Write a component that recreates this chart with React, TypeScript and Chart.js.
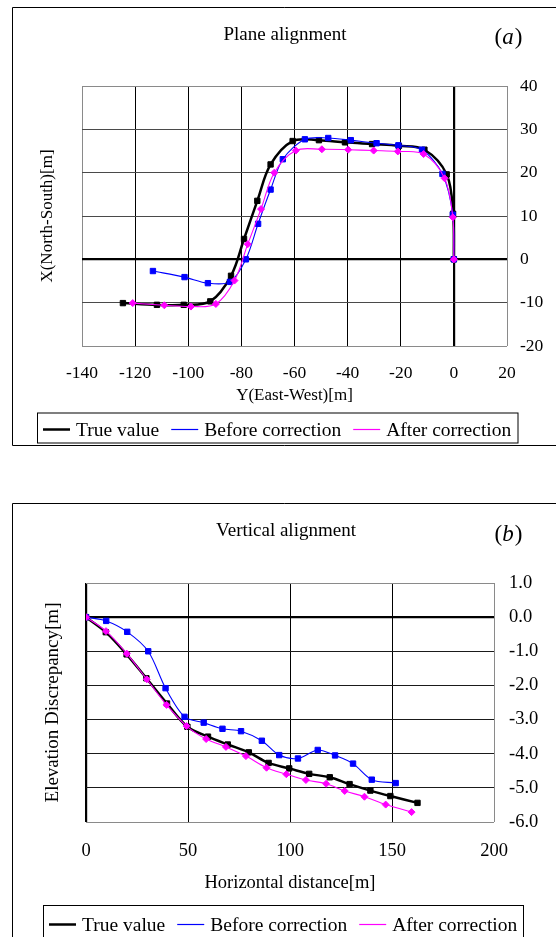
import React, { useEffect, useRef } from "react";
import { Chart, registerables } from "chart.js";

Chart.register(...registerables);

const SERIF = "'Liberation Serif', 'Times New Roman', Times, serif";

// ---------- (a) Plane alignment : x = Y(East-West)[m], y = X(North-South)[m] ----------
const seriesLabels = ["True value", "Before correction", "After correction"];

const planeTrueY = [-124.6, -111.8, -101.7, -91.7, -83.9, -79.0, -74.0, -69.0, -60.7, -50.8, -41.0, -30.8, -20.7, -11.1, -2.7, -0.3, 0];
const planeTrueX = [-10.1, -10.5, -10.5, -9.7, -3.8, 4.7, 13.5, 21.9, 27.3, 27.5, 27.0, 26.6, 26.2, 25.3, 19.6, 10.5, 0];

const planeBeforeY = [-113.3, -101.4, -92.6, -84.3, -78.3, -73.7, -69.0, -64.4, -56.1, -47.3, -38.8, -29.1, -20.9, -12.0, -4.3, -0.4, 0];
const planeBeforeX = [-2.7, -4.1, -5.5, -5.2, 0, 8.2, 16.1, 23.1, 27.7, 28.0, 27.5, 26.8, 26.3, 25.3, 19.7, 10.3, 0];

const planeAfterY = [-120.9, -109.0, -99.0, -89.6, -82.6, -77.6, -72.6, -67.6, -59.5, -49.7, -39.8, -30.2, -21.1, -11.4, -3.5, -0.4, 0];
const planeAfterX = [-10.1, -10.6, -10.9, -10.3, -4.9, 3.5, 11.6, 20.0, 25.1, 25.4, 25.3, 25.1, 24.9, 24.3, 18.7, 9.7, 0];

const planeXTicks = { min: -140, max: 20, step: 20 };
const planeYTicks = { min: -20, max: 40, step: 10 };

// ---------- (b) Vertical alignment ----------
const vertTrueD = [0, 9.7, 19.9, 29.6, 39.7, 49.7, 59.8, 69.5, 79.8, 89.5, 99.6, 109.4, 119.5, 129.2, 139.4, 149.2, 162.5];
const vertTrueE = [0, -0.44, -1.09, -1.79, -2.53, -3.21, -3.5, -3.73, -3.96, -4.27, -4.43, -4.59, -4.69, -4.89, -5.08, -5.24, -5.44];

const vertBeforeD = [0, 9.9, 20.2, 30.5, 39.0, 48.3, 57.7, 66.9, 76.0, 86.2, 94.7, 103.9, 113.6, 122.1, 130.9, 140.1, 151.8];
const vertBeforeE = [0, -0.11, -0.43, -1.0, -2.08, -2.92, -3.09, -3.27, -3.34, -3.62, -4.04, -4.14, -3.89, -4.05, -4.29, -4.76, -4.86];

const vertAfterD = [0, 9.8, 20.0, 29.8, 39.5, 49.3, 58.9, 68.6, 78.4, 88.5, 98.2, 107.8, 117.7, 126.8, 136.5, 146.9, 159.6];
const vertAfterE = [0, -0.41, -1.07, -1.82, -2.57, -3.19, -3.57, -3.8, -4.07, -4.41, -4.6, -4.77, -4.88, -5.09, -5.26, -5.49, -5.71];

const vertXTicks = { min: 0, max: 200, step: 50 };
const vertYTicks = { min: -6, max: 1, step: 1 };

// ---------- helpers ----------
const zip = (xs: number[], ys: number[]) => xs.map((x, i) => ({ x, y: ys[i] }));

const near = (a: number, b: number) => Math.abs(a - b) < 1e-9;

function makeDatasets(t: [number[], number[]], b: [number[], number[]], a: [number[], number[]]) {
  return [
    {
      label: seriesLabels[0],
      data: zip(t[0], t[1]),
      showLine: true,
      borderColor: "#000000",
      borderWidth: 2.5,
      pointStyle: "rect",
      pointRadius: 3.8,
      pointBackgroundColor: "#000000",
      pointBorderColor: "#000000",
      pointBorderWidth: 1,
      tension: 0.35,
      order: 3,
      xAxisID: "x",
      yAxisID: "y",
    },
    {
      label: seriesLabels[1],
      data: zip(b[0], b[1]),
      showLine: true,
      borderColor: "#0000ff",
      borderWidth: 1.1,
      pointStyle: "rect",
      pointRadius: 3.8,
      pointBackgroundColor: "#0000ff",
      pointBorderColor: "#0000ff",
      pointBorderWidth: 1,
      tension: 0.3,
      order: 2,
      xAxisID: "x",
      yAxisID: "y",
    },
    {
      label: seriesLabels[2],
      data: zip(a[0], a[1]),
      showLine: true,
      borderColor: "#ff00ff",
      borderWidth: 1.1,
      pointStyle: "rectRot",
      pointRadius: 3.5,
      pointBackgroundColor: "#ff00ff",
      pointBorderColor: "#ff00ff",
      pointBorderWidth: 1,
      tension: 0.35,
      order: 1,
      xAxisID: "x",
      yAxisID: "y",
    },
  ];
}

type Decor = {
  frame: number[][];
  title: string;
  titleSize: number;
  titleX: number;
  titleY: number;
  tag: string;
  tagSize: number;
  tagX: number;
  tagY: number;
  legend: { x: number; y: number; w: number; h: number; size: number; lineY: number; textY: number };
};

function makeDecorPlugin(d: Decor) {
  return {
    id: "decor",
    afterDraw(chart: any) {
      const ctx: CanvasRenderingContext2D = chart.ctx;
      ctx.save();
      // outer frame
      ctx.strokeStyle = "#000";
      ctx.lineWidth = 1;
      ctx.beginPath();
      for (const [x1, y1, x2, y2] of d.frame) {
        ctx.moveTo(x1, y1);
        ctx.lineTo(x2, y2);
      }
      ctx.stroke();

      // title
      ctx.fillStyle = "#000";
      ctx.textAlign = "center";
      ctx.textBaseline = "alphabetic";
      ctx.font = `${d.titleSize}px ${SERIF}`;
      ctx.fillText(d.title, d.titleX, d.titleY);

      // panel tag "(a)" with italic letter
      ctx.textAlign = "left";
      const up = `${d.tagSize}px ${SERIF}`;
      const it = `italic ${d.tagSize}px ${SERIF}`;
      ctx.font = up;
      const wl = ctx.measureText("(").width;
      const wr = ctx.measureText(")").width;
      ctx.font = it;
      const wm = ctx.measureText(d.tag).width;
      let tx = d.tagX - (wl + wm + wr) / 2;
      ctx.font = up;
      ctx.fillText("(", tx, d.tagY);
      tx += wl;
      ctx.font = it;
      ctx.fillText(d.tag, tx, d.tagY);
      tx += wm + 1;
      ctx.font = up;
      ctx.fillText(")", tx, d.tagY);

      // legend box
      const L = d.legend;
      ctx.strokeStyle = "#000";
      ctx.lineWidth = 1;
      ctx.strokeRect(L.x + 0.5, L.y + 0.5, L.w, L.h);
      ctx.font = `${L.size}px ${SERIF}`;
      let x = L.x + 6;
      chart.data.datasets.forEach((ds: any) => {
        ctx.strokeStyle = ds.borderColor;
        ctx.lineWidth = ds.borderWidth >= 2 ? 2.5 : 1.2;
        ctx.beginPath();
        ctx.moveTo(x, L.lineY);
        ctx.lineTo(x + 27, L.lineY);
        ctx.stroke();
        ctx.fillStyle = "#000";
        ctx.fillText(ds.label, x + 33, L.textY);
        x += 33 + ctx.measureText(ds.label).width + 12;
      });
      ctx.restore();
    },
  };
}

type AxisSpec = {
  xTicks: { min: number; max: number; step: number };
  yTicks: { min: number; max: number; step: number };
  xTitle: string;
  yTitle: string;
  tickSize: number;
  xTitleSize: number;
  yTitleSize: number;
  padTop: number;
  leftW: number;
  rightW: number;
  bottomH: number;
  xTickPad: number;
  yTickPad: number;
  xTitlePad: number;
  yTitlePad: number;
  hColor: string;
  yFmt?: (v: number) => string;
};

function makeOptions(s: AxisSpec) {
  const edgeGray = "#8a8a8a";
  return {
    responsive: false,
    animation: false,
    devicePixelRatio: 1,
    layout: { padding: { top: s.padTop, left: 0, right: 0, bottom: 0 } },
    plugins: {
      legend: { display: false },
      tooltip: { enabled: false },
      title: { display: false },
    },
    events: [],
    scales: {
      x: {
        type: "linear",
        position: "bottom",
        min: s.xTicks.min,
        max: s.xTicks.max,
        ticks: {
          stepSize: s.xTicks.step,
          padding: s.xTickPad,
          color: "#000",
          font: { family: SERIF, size: s.tickSize },
          maxRotation: 0,
          autoSkip: false,
        },
        grid: {
          drawTicks: false,
          color: (c: any) => {
            const v = c.tick ? c.tick.value : NaN;
            if (near(v, 0)) return "#000";
            if (near(v, s.xTicks.min) || near(v, s.xTicks.max)) return edgeGray;
            return "#000";
          },
          lineWidth: (c: any) => (c.tick && near(c.tick.value, 0) ? 2.2 : 1),
        },
        border: { display: false },
        title: {
          display: true,
          text: s.xTitle,
          color: "#000",
          font: { family: SERIF, size: s.xTitleSize },
          padding: { top: 0, bottom: s.xTitlePad },
        },
        afterFit: (sc: any) => {
          sc.height = s.bottomH;
        },
      },
      y: {
        type: "linear",
        position: "right",
        min: s.yTicks.min,
        max: s.yTicks.max,
        ticks: {
          stepSize: s.yTicks.step,
          padding: s.yTickPad,
          color: "#000",
          font: { family: SERIF, size: s.tickSize },
          callback: s.yFmt ? (v: any) => s.yFmt!(Number(v)) : undefined,
        },
        grid: {
          drawTicks: false,
          color: (c: any) => {
            const v = c.tick ? c.tick.value : NaN;
            if (near(v, 0)) return "#000";
            if (near(v, s.yTicks.min) || near(v, s.yTicks.max)) return edgeGray;
            return s.hColor;
          },
          lineWidth: (c: any) => (c.tick && near(c.tick.value, 0) ? 2.2 : 1),
        },
        border: { display: false },
        afterFit: (sc: any) => {
          sc.width = s.rightW;
        },
      },
      yt: {
        type: "linear",
        axis: "y",
        position: "left",
        display: true,
        min: 0,
        max: 1,
        ticks: { display: false },
        grid: { display: false, drawTicks: false },
        border: { display: false },
        title: {
          display: true,
          text: s.yTitle,
          color: "#000",
          font: { family: SERIF, size: s.yTitleSize },
          padding: { top: s.yTitlePad, bottom: 0 },
        },
        afterFit: (sc: any) => {
          sc.width = s.leftW;
        },
      },
    },
  };
}

function planeConfig() {
  return {
    type: "scatter",
    data: {
      datasets: makeDatasets([planeTrueY, planeTrueX], [planeBeforeY, planeBeforeX], [planeAfterY, planeAfterX]),
    },
    options: makeOptions({
      xTicks: planeXTicks,
      yTicks: planeYTicks,
      xTitle: "Y(East-West)[m]",
      yTitle: "X(North-South)[m]",
      tickSize: 17.5,
      xTitleSize: 17,
      yTitleSize: 17,
      padTop: 86,
      leftW: 82,
      rightW: 49,
      bottomH: 124,
      xTickPad: 16.5,
      yTickPad: 13,
      xTitlePad: 63.8,
      yTitlePad: 37.8,
      hColor: "#4a4a4a",
    }),
    plugins: [
      makeDecorPlugin({
        frame: [
          [12.5, 7.5, 556, 7.5],
          [12.5, 7.5, 12.5, 445.5],
          [12.5, 445.5, 556, 445.5],
        ],
        title: "Plane alignment",
        titleSize: 19,
        titleX: 285,
        titleY: 40,
        tag: "a",
        tagSize: 23,
        tagX: 508,
        tagY: 43.5,
        legend: { x: 37, y: 412.5, w: 480.5, h: 30, size: 19.5, lineY: 429.5, textY: 436 },
      }),
    ],
  };
}

function vertConfig() {
  return {
    type: "scatter",
    data: {
      datasets: makeDatasets([vertTrueD, vertTrueE], [vertBeforeD, vertBeforeE], [vertAfterD, vertAfterE]),
    },
    options: makeOptions({
      xTicks: vertXTicks,
      yTicks: vertYTicks,
      xTitle: "Horizontal distance[m]",
      yTitle: "Elevation Discrepancy[m]",
      tickSize: 18.5,
      xTitleSize: 18.5,
      yTitleSize: 19,
      padTop: 113,
      leftW: 86,
      rightW: 62,
      bottomH: 115,
      xTickPad: 18,
      yTickPad: 15,
      xTitlePad: 42.6,
      yTitlePad: 41.6,
      hColor: "#1a1a1a",
      yFmt: (v: number) => v.toFixed(1),
    }),
    plugins: [
      makeDecorPlugin({
        frame: [
          [12.5, 33.5, 556, 33.5],
          [12.5, 33.5, 12.5, 467],
        ],
        title: "Vertical alignment",
        titleSize: 19,
        titleX: 286,
        titleY: 66,
        tag: "b",
        tagSize: 23,
        tagX: 508,
        tagY: 70.5,
        legend: { x: 43, y: 435, w: 480, h: 45, size: 19.5, lineY: 454.5, textY: 461 },
      }),
    ],
  };
}

function ChartPanel({ top, width, height, build }: { top: number; width: number; height: number; build: () => any }) {
  const ref = useRef<HTMLCanvasElement | null>(null);
  useEffect(() => {
    if (!ref.current) return;
    const chart = new Chart(ref.current, build());
    return () => chart.destroy();
  }, []);
  return (
    <canvas
      ref={ref}
      width={width}
      height={height}
      style={{ position: "absolute", left: 0, top, width, height, display: "block" }}
    />
  );
}

export default function App() {
  return (
    <div
      style={{
        position: "absolute",
        left: 0,
        top: 0,
        width: 556,
        height: 937,
        background: "#ffffff",
        overflow: "hidden",
      }}
    >
      <ChartPanel top={0} width={556} height={470} build={planeConfig} />
      <ChartPanel top={470} width={556} height={467} build={vertConfig} />
    </div>
  );
}
